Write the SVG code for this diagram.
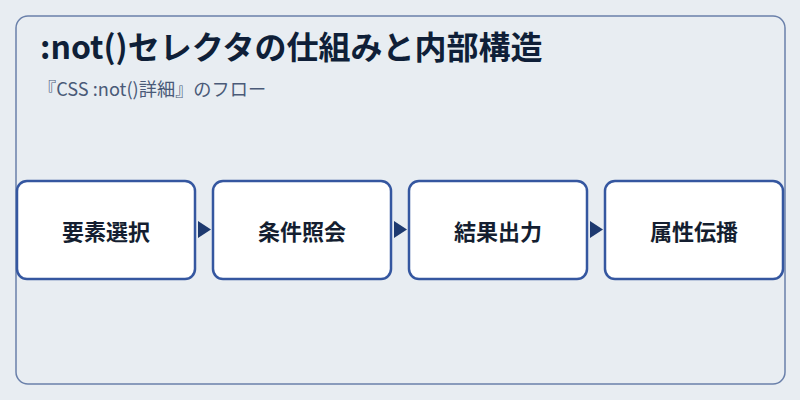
<svg xmlns="http://www.w3.org/2000/svg" width="800" height="400" viewBox="0 0 800 400">
<style>
.node rect{fill:#ffffff;stroke:#3557a0;stroke-width:2.5}
.node text{font-family:"Noto Sans CJK JP","Noto Sans",sans-serif;font-size:22px;font-weight:bold;fill:#141e30;text-anchor:middle;dominant-baseline:central}
.arrow{fill:#1e3a70}
</style>
<rect x="0" y="0" width="800" height="400" fill="#e8edf2"/>
<rect id="frame" x="16" y="16" width="769" height="368" rx="12" fill="#e8edf2" stroke="#6a80aa" stroke-width="1.5"/>
<text x="40" y="59" font-family="'Noto Sans CJK JP','Noto Sans',sans-serif" font-size="32" font-weight="bold" fill="#0f1f38">:not()セレクタの仕組みと内部構造</text>
<text x="38" y="96" font-family="'Noto Sans CJK JP','Noto Sans',sans-serif" font-size="18.2" fill="#4a5a78">『CSS :not()詳細』のフロー</text>
<g id="connectors">
<polygon class="arrow" points="198,221 211,229.5 198,238"/>
<polygon class="arrow" points="394,221 407,229.5 394,238"/>
<polygon class="arrow" points="590,221 603,229.5 590,238"/>
</g>
<g id="node1" class="node"><rect x="17" y="181" width="178" height="98" rx="10"/><text x="106" y="230">要素選択</text></g>
<g id="node2" class="node"><rect x="213" y="181" width="178" height="98" rx="10"/><text x="302" y="230">条件照会</text></g>
<g id="node3" class="node"><rect x="409" y="181" width="178" height="98" rx="10"/><text x="498" y="230">結果出力</text></g>
<g id="node4" class="node"><rect x="605" y="181" width="178" height="98" rx="10"/><text x="694" y="230">属性伝播</text></g>
</svg>
